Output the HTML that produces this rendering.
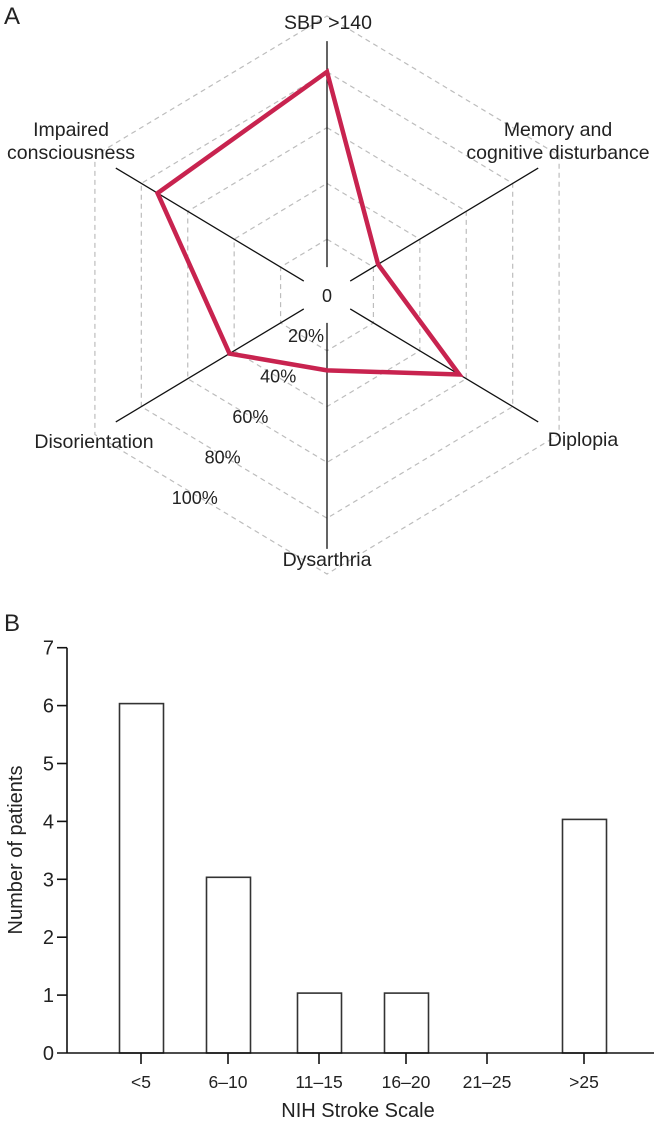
<!DOCTYPE html>
<html><head><meta charset="utf-8"><style>
html,body{margin:0;padding:0;background:#fff}
svg{display:block;font-family:"Liberation Sans",sans-serif}
text{fill:#222}
</style></head><body>
<svg id="fig" width="656" height="1121" viewBox="0 0 656 1121">
<text x="4" y="24" font-size="24">A</text>
<g id="radar"></g>
<text x="4" y="631" font-size="24">B</text>
<g id="bars"></g>
</svg>
<script>
const radarAxes = ["SBP >140","Memory and cognitive disturbance","Diplopia","Dysarthria","Disorientation","Impaired consciousness"];
const radarValues = [80, 22, 57, 27, 42, 73];
const radarTicks = ["20%","40%","60%","80%","100%"];
const barCategories = ["<5","6–10","11–15","16–20","21–25",">25"];
const barValues = [6, 3, 1, 1, 0, 4];
const yTickLabels = ["0","1","2","3","4","5","6","7"];

const NS = "http://www.w3.org/2000/svg";
function mk(tag, attrs, parent){const e=document.createElementNS(NS,tag);for(const k in attrs)e.setAttribute(k,attrs[k]);parent.appendChild(e);return e;}

// Radar
const rg = document.getElementById('radar');
const cx=327, cy=295, kx=2.68, ky=2.79;
function rp(i, v){const a=i*Math.PI/3;return [cx+v*kx*Math.sin(a), cy-v*ky*Math.cos(a)];}
for(let r=1;r<=5;r++){
  const pts=[];for(let i=0;i<6;i++)pts.push(rp(i,r*20).join(','));
  const ring=mk('polygon',{points:pts.join(' '),fill:'none',stroke:'#bdbdbd','stroke-width':1.2,'stroke-dasharray':'5 4'},rg);
  
  
}
for(let i=0;i<6;i++){
  const a=rp(i,10), b=rp(i,91);
  const ax=mk('line',{x1:a[0],y1:a[1],x2:b[0],y2:b[1],stroke:'#111','stroke-width':1.3},rg);
  
  
}
const dp=radarValues.map((v,i)=>rp(i,v).join(',')).join(' ');
const poly=mk('polygon',{points:dp,fill:'none',stroke:'#c8234f','stroke-width':4.5,'stroke-linejoin':'miter'},rg);



const labelPos=[[[328,29]],[[558,136],[558,159]],[[583,446]],[[327,566]],[[94,448]],[[71,136],[71,159]]];
const labelLines=[["SBP >140"],["Memory and","cognitive disturbance"],["Diplopia"],["Dysarthria"],["Disorientation"],["Impaired","consciousness"]];
radarAxes.forEach((name,i)=>{
  const t=mk('text',{'font-size':19.5,'text-anchor':'middle'},rg);
  
  
  labelLines[i].forEach((ln,j)=>{const s=mk('tspan',{x:labelPos[i][j][0],y:labelPos[i][j][1]},t);s.textContent=ln;});
});
const zero=mk('text',{x:327,y:302,'font-size':18,'text-anchor':'middle'},rg);zero.textContent="0";


radarTicks.forEach((tk,i)=>{
  const t=mk('text',{x:306-27.8*i,y:342+40.5*i,'font-size':18,'text-anchor':'middle'},rg);
  t.textContent=tk;
  
  
});

// Bars
const bg=document.getElementById('bars');
const x0=67, y0=1053, yStep=57.9, xEnd=654;
const tickX=[141,228,319,406,487,584];
const bw=44;
function ys(v){return y0-v*yStep;}
barValues.forEach((v,i)=>{
  if(v<=0)return;
  const r=mk('rect',{x:tickX[i]-bw/2+0.5,y:ys(v)-2,width:bw,height:y0-ys(v)+2,fill:'#fff',stroke:'#333','stroke-width':1.6},bg);
  
  
});
const yax=mk('line',{x1:x0,y1:ys(7),x2:x0,y2:y0,stroke:'#111','stroke-width':1.6},bg);


const xax=mk('line',{x1:x0-10,y1:y0,x2:xEnd,y2:y0,stroke:'#111','stroke-width':1.6},bg);


yTickLabels.forEach((lb,i)=>{
  const y=ys(i);
  if(i>0){const l=mk('line',{x1:x0-10,y1:y,x2:x0,y2:y,stroke:'#111','stroke-width':1.6},bg);
  
  }
  const t=mk('text',{x:x0-13,y:y+7,'font-size':20,'text-anchor':'end'},bg);
  t.textContent=lb;
  
  
});
barCategories.forEach((c,i)=>{
  const l=mk('line',{x1:tickX[i],y1:y0,x2:tickX[i],y2:y0+11,stroke:'#111','stroke-width':1.6},bg);
  
  
  const t=mk('text',{x:tickX[i],y:1088,'font-size':17.5,'text-anchor':'middle'},bg);
  t.textContent=c;
  
  
});
const xt=mk('text',{x:358,y:1117,'font-size':20,'text-anchor':'middle'},bg);xt.textContent="NIH Stroke Scale";


const yt=mk('text',{x:0,y:0,'font-size':20,'text-anchor':'middle',transform:'translate(22,850) rotate(-90)'},bg);yt.textContent="Number of patients";


</script>
</body></html>
